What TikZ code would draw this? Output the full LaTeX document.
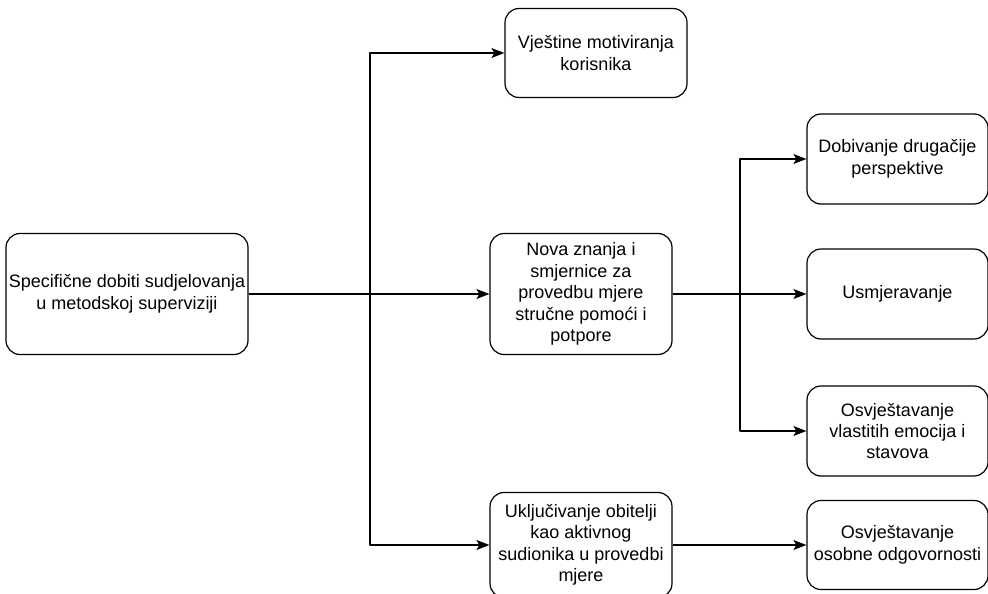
\documentclass[tikz,border=0pt]{standalone}
\usepackage{fontspec}
\setmainfont{Liberation Sans}
\usetikzlibrary{arrows.meta}
\tikzset{
	okvir/.style={draw, line width=1.2pt, rounded corners=14pt, align=center, inner sep=2pt},
	veza/.style={line width=1.2pt, -{Stealth[length=13pt, width=10pt, inset=3pt]}}
}
\begin{document}
\begin{tikzpicture}[x=1pt, y=-1pt, font=\fontsize{18}{21.4}\selectfont, line join=round]
	\useasboundingbox (0,0) rectangle (988,594);
	\node[okvir, minimum width=242pt, minimum height=121pt] (dobiti) at (127,294)
	{Specifične dobiti sudjelovanja\\u metodskoj superviziji};
	\node[okvir, minimum width=182pt, minimum height=89pt] (vjestine) at (596,53)
	{Vještine motiviranja\\korisnika};
	\node[okvir, minimum width=182pt, minimum height=121pt] (znanja) at (581,294)
	{Nova znanja i\\smjernice za\\provedbu mjere\\stručne pomoći i\\potpore};
	\node[okvir, minimum width=182pt, minimum height=105pt] (obitelj) at (581,545)
	{Uključivanje obitelji\\kao aktivnog\\sudionika u provedbi\\mjere};
	\node[okvir, minimum width=181pt, minimum height=90pt] (perspektiva) at (897.5,159)
	{Dobivanje drugačije\\perspektive};
	\node[okvir, minimum width=181pt, minimum height=90pt] (usmjeravanje) at (897.5,294)
	{Usmjeravanje};
	\node[okvir, minimum width=181pt, minimum height=90pt] (emocije) at (897.5,431)
	{Osvještavanje\\vlastitih emocija i\\stavova};
	\node[okvir, minimum width=181pt, minimum height=89pt] (odgovornost) at (897.5,545)
	{Osvještavanje\\osobne odgovornosti};
	% grananja
	\coordinate (g1) at (370,294);
	\coordinate (g2) at (740,294);
	\draw[veza] (dobiti) -- (znanja);
	\draw[veza] (g1) |- (vjestine);
	\draw[veza] (g1) |- (obitelj);
	\draw[veza] (znanja) -- (usmjeravanje);
	\draw[veza] (g2) |- (perspektiva);
	\draw[veza] (g2) |- (emocije);
	\draw[veza] (obitelj) -- (odgovornost);
\end{tikzpicture}
\end{document}
